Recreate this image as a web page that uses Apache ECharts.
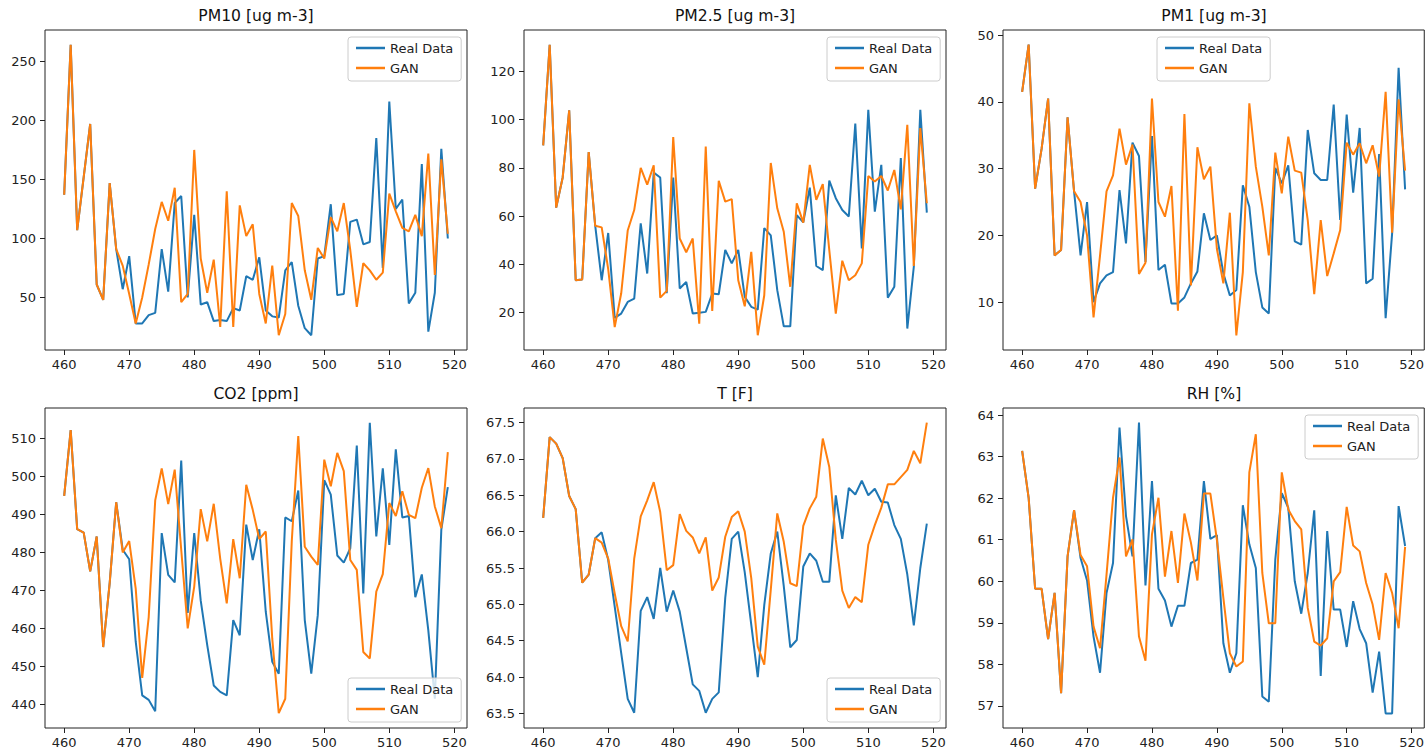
<!DOCTYPE html>
<html>
<head>
<meta charset="utf-8">
<script src="https://cdn.jsdelivr.net/npm/echarts@6/dist/echarts.min.js"></script>
<style>
html,body{margin:0;padding:0;background:#fff;}
#chart{width:1427px;height:751px;}
</style>
</head>
<body>
<div id="chart"></div>
<script>
// ---- data ----
const steps = [460,461,462,463,464,465,466,467,468,469,470,471,472,473,474,475,476,477,478,479,
480,481,482,483,484,485,486,487,488,489,490,491,492,493,494,495,496,497,498,499,
500,501,502,503,504,505,506,507,508,509,510,511,512,513,514,515,516,517,518,519];

const panelTitles = ['PM10 [ug m-3]','PM2.5 [ug m-3]','PM1 [ug m-3]','CO2 [ppm]','T [F]','RH [%]'];
const seriesNames = ['Real Data','GAN'];

const pm10Real = [137,264,107,152,197,61,48,147,91,57,85,28,28,35,37,91,55,130,136,50,
120,44,46,30,31,30,41,39,68,65,84,39,34,33,73,80,43,24,18,83,
85,129,52,53,114,116,95,97,185,75,216,125,133,45,54,163,21,54,176,100];
const pm10Gan = [137,264,107,152,197,61,48,147,91,77,53,28,50,78,108,131,115,143,46,53,
175,83,54,82,25,140,25,128,102,112,53,28,77,18,36,130,119,73,48,92,
83,118,106,130,90,42,79,73,65,71,138,123,109,106,120,102,172,69,167,104];

const pm25Real = [89.3,131,63.5,76,103.8,33.4,33.7,86.5,56,33.4,53,17.8,19.6,24.4,25.8,57,36.2,78,76,28,
76,30,32.7,19.6,19.9,20.3,27.9,27.6,46,40.4,46,26.5,22.4,21.2,55,52,29.3,14.3,14.3,60.4,
57.4,71.8,39.3,37.6,74.7,67.4,62.5,59.8,98.3,46.6,104,61.8,81.2,26.2,30.7,84,13.4,39,104,61.4];
const pm25Gan = [89.3,131,63.5,76,103.8,33.4,33.7,86.5,56,55.3,38,14,28,54,62.5,80,73,81,26.2,29,
92.7,50.7,45,50.7,15.4,88.8,20.7,74.6,66,67,33.4,22.6,45.2,10.6,27.2,82,63.2,53.5,30.7,65.3,
57.3,81.2,66.7,73.2,45.9,19.6,41.5,33.4,35.5,40.4,76.6,74.3,76.6,70.6,79.1,62.8,97.8,39.3,96.5,65.3];

const pm1Real = [41.5,48.6,27,33,40.5,17,17.8,37.7,26.6,17,25,10,12.8,14,14.5,26.8,18.8,33.9,31.9,16,
34.9,14.8,15.6,9.8,9.8,10.7,12.8,14.6,23.3,19.3,20,14.3,11,11.8,27.5,24.3,14.5,9.2,8.3,30.1,
27.8,30.5,19.1,18.6,35.8,29.3,28.3,28.3,39.6,22.3,38.1,26.4,36.1,12.8,13.5,32.2,7.6,20.3,45.1,26.9];
const pm1Gan = [41.5,48.6,27,33,40.5,17,17.8,37.7,26.6,25,20,7.7,17,26.6,29,36,30.6,33.6,14.2,15.9,
40.5,25,22.8,27.4,8.7,38.2,12.5,33.2,28.4,30.3,18,12.8,23.4,5,14.5,39.8,30.3,24.3,17,32.4,
26.3,34.8,29.7,29.4,22.3,11.2,22.3,13.9,17.3,20.8,33.9,32.1,33.8,30.8,33.5,28.8,41.5,20.4,40.4,29.7];

const co2Real = [494.9,512.2,486.1,485.2,475,484.2,455.1,472,493.2,480.7,478.2,456.5,442.4,441.2,438.2,485.1,474.1,472.1,504.2,464.1,
485.1,467.3,455.6,445,443.3,442.4,462.2,458.2,487.3,478,486.1,464.4,451.2,448.1,489.2,488.2,496.3,462.2,448.1,463.5,
499,495.2,479.2,477.3,481.1,508.1,469.2,514.1,484.2,502.1,482,507.1,489.2,489.6,468.2,474.2,459.5,441.5,486,497.2];
const co2Gan = [494.9,512.2,486.1,485.2,475,484.2,455.1,472,493.2,480,483,470.5,447,463,493.7,502.1,492.7,501.8,480.7,460,
471,491.4,482.9,492.8,478.3,466.6,483.5,473.2,497.8,491.2,483.5,485.5,457.3,437.7,441.5,482.9,510.6,481.5,478.9,476.7,
504.4,497.4,506.2,501.4,478,475.4,453.8,452.1,469.7,474.3,493,489.6,496.1,489.9,489,497,502.2,492.1,486.4,506.4];

const tReal = [66.19,67.30,67.21,67.01,66.49,66.31,65.30,65.41,65.91,65.99,65.61,64.97,64.33,63.70,63.51,64.91,65.10,64.80,65.50,64.90,
65.19,64.90,64.40,63.90,63.81,63.51,63.70,63.79,65.09,65.90,66.00,65.44,64.72,64.00,64.99,65.70,66.00,65.25,64.41,64.51,
65.52,65.70,65.60,65.31,65.31,66.50,65.90,66.60,66.51,66.70,66.50,66.59,66.41,66.40,66.09,65.90,65.41,64.71,65.50,66.11];
const tGan = [66.19,67.30,67.21,67.01,66.49,66.31,65.30,65.41,65.91,65.85,65.63,65.15,64.70,64.49,65.63,66.21,66.43,66.68,66.27,65.47,
65.54,66.24,66.01,65.92,65.70,65.92,65.19,65.37,65.93,66.20,66.28,66.00,65.36,64.42,64.17,65.20,66.25,65.86,65.29,65.25,
66.08,66.32,66.48,67.28,66.89,65.89,65.19,64.95,65.10,65.03,65.82,66.09,66.33,66.65,66.65,66.75,66.85,67.11,66.94,67.50];

const rhReal = [63.14,62.01,59.82,59.82,58.61,59.72,57.31,60.60,61.71,60.56,60.02,58.67,57.80,59.72,60.44,63.70,61.57,60.60,63.82,59.90,
62.41,59.82,59.54,58.91,59.41,59.41,60.44,60.52,62.41,61.02,61.11,58.51,57.80,58.27,61.83,60.89,60.32,57.23,57.10,60.52,
62.12,61.77,60.00,59.22,60.20,61.71,57.72,61.21,59.32,59.32,58.42,59.52,58.85,58.51,57.32,58.31,56.82,56.82,61.81,60.85];
const rhGan = [63.14,62.01,59.82,59.82,58.61,59.72,57.31,60.60,61.71,60.63,60.36,58.91,58.39,60.16,62.01,62.98,60.60,61.01,58.67,58.09,
61.13,62.01,60.11,61.21,59.96,61.63,60.93,60.02,62.11,62.11,61.00,59.60,58.27,57.95,58.07,62.62,63.54,60.20,58.99,58.99,
62.62,61.73,61.45,61.25,59.36,58.55,58.45,58.63,60.00,60.22,61.79,60.86,60.72,59.96,59.44,58.59,60.20,59.72,58.87,60.83];

const xTicks = [460,470,480,490,500,510,520];
const yTicksPm10 = [50,100,150,200,250];
const yTicksPm25 = [20,40,60,80,100,120];
const yTicksPm1 = [10,20,30,40,50];
const yTicksCo2 = [440,450,460,470,480,490,500,510];
const yTicksT = [63.5,64.0,64.5,65.0,65.5,66.0,66.5,67.0,67.5];
const yTicksRh = [57,58,59,60,61,62,63,64];

// ---- layout / style ----
const FONT = 'DejaVu Sans';
const BLUE = '#1f77b4', ORANGE = '#ff7f0e';
const colLeft = [45, 524, 1003];
const rowTop = [30, 408];
const W = 422, H = 320;

const panels = [
  {real: pm10Real, gan: pm10Gan, ticks: yTicksPm10, min: 5.5, max: 276.6, dec: 0, legend: [348, 37]},
  {real: pm25Real, gan: pm25Gan, ticks: yTicksPm25, min: 4.5, max: 137.1, dec: 0, legend: [827, 37]},
  {real: pm1Real, gan: pm1Gan, ticks: yTicksPm1, min: 2.82, max: 50.78, dec: 0, legend: [1157, 37]},
  {real: co2Real, gan: co2Gan, ticks: yTicksCo2, min: 433.8, max: 518.0, dec: 0, legend: [348, 678]},
  {real: tReal, gan: tGan, ticks: yTicksT, min: 63.3, max: 67.7, dec: 1, legend: [827, 678]},
  {real: rhReal, gan: rhGan, ticks: yTicksRh, min: 56.47, max: 64.17, dec: 0, legend: [1305, 415]}
];

const grid = [], xAxis = [], yAxis = [], series = [], legend = [], title = [];
panels.forEach((p, k) => {
  const c = k % 3, r = Math.floor(k / 3);
  grid.push({left: colLeft[c], top: rowTop[r], width: W, height: H, show: true,
    borderColor: '#222', borderWidth: 1, backgroundColor: 'transparent', containLabel: false});
  xAxis.push({type: 'value', gridIndex: k, min: 457.05, max: 521.95,
    axisLine: {show: false}, splitLine: {show: false},
    axisTick: {show: true, inside: false, length: 5, lineStyle: {color: '#222', width: 1}, customValues: xTicks},
    axisLabel: {customValues: xTicks, margin: 8, color: '#222', fontSize: 13, fontFamily: FONT,
      showMinLabel: true, showMaxLabel: true}});
  yAxis.push({type: 'value', gridIndex: k, min: p.min, max: p.max,
    axisLine: {show: false}, splitLine: {show: false},
    axisTick: {show: true, inside: false, length: 5, lineStyle: {color: '#222', width: 1}, customValues: p.ticks},
    axisLabel: {customValues: p.ticks, margin: 9, color: '#222', fontSize: 13, fontFamily: FONT,
      formatter: v => Number(v).toFixed(p.dec)}});
  const mk = (name, vals, color) => ({
    type: 'line', name: name, xAxisIndex: k, yAxisIndex: k,
    data: steps.map((s, i) => [s, vals[i]]),
    showSymbol: false, symbol: 'none', smooth: false, clip: true,
    lineStyle: {color: color, width: 2}, itemStyle: {color: color},
    emphasis: {disabled: true}, animation: false
  });
  series.push(mk(seriesNames[0], p.real, BLUE));
  series.push(mk(seriesNames[1], p.gan, ORANGE));
  legend.push({data: seriesNames, orient: 'vertical', left: p.legend[0], top: p.legend[1],
    icon: 'rect', itemWidth: 29, itemHeight: 2.5, itemGap: 4,
    padding: [3, 8, 5, 8], backgroundColor: 'rgba(255,255,255,0.8)',
    borderColor: '#cccccc', borderWidth: 1, borderRadius: 3,
    textStyle: {fontSize: 13, fontFamily: FONT, color: '#222', lineHeight: 16},
    selectedMode: false});
  title.push({text: panelTitles[k], left: colLeft[c] + W / 2, top: rowTop[r] - 22, textAlign: 'center',
    padding: 0, textStyle: {fontSize: 15.6, fontWeight: 'normal', fontFamily: FONT, color: '#111'}});
});

const chart = echarts.init(document.getElementById('chart'), null, {renderer: 'svg'});
chart.setOption({animation: false, backgroundColor: '#fff', title, grid, xAxis, yAxis, series, legend});
</script>
</body>
</html>
